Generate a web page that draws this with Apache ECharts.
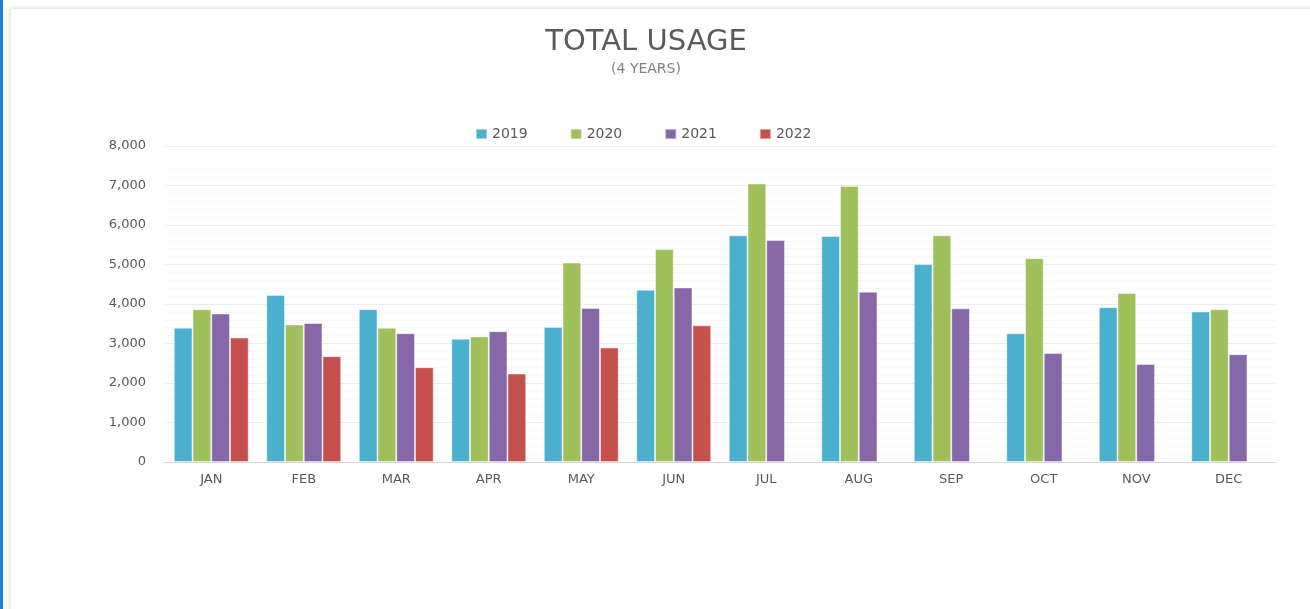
<!DOCTYPE html>
<html>
<head>
<meta charset="utf-8">
<script src="https://cdn.jsdelivr.net/npm/echarts@6/dist/echarts.min.js"></script>
<style>
  html, body { margin: 0; padding: 0; background: #ffffff; }
  #page { position: relative; width: 1310px; height: 609px; overflow: hidden; background: #ffffff; }
  #blue { position: absolute; left: 0; top: 0; width: 3px; height: 609px; background: #1b7fd6; }
  #card { position: absolute; left: 11px; top: 9px; width: 1320px; height: 640px; background: #ffffff;
          box-shadow: -1px -1px 4px rgba(0,0,0,0.15); }
  #chart { position: absolute; left: 0; top: 0; width: 1310px; height: 609px; }
</style>
</head>
<body>
<div id="page">
  <div id="blue"></div>
  <div id="card"></div>
  <div id="chart"></div>
</div>
<script>
const months = ['JAN','FEB','MAR','APR','MAY','JUN','JUL','AUG','SEP','OCT','NOV','DEC'];
const seriesNames = ['2019','2020','2021','2022'];
const usage2019 = [3400, 4230, 3870, 3120, 3420, 4360, 5740, 5720, 5010, 3260, 3920, 3810];
const usage2020 = [3870, 3480, 3400, 3180, 5050, 5390, 7050, 6990, 5740, 5160, 4280, 3870];
const usage2021 = [3760, 3520, 3260, 3310, 3900, 4420, 5620, 4310, 3890, 2760, 2480, 2730];
const usage2022 = [3150, 2680, 2400, 2240, 2900, 3460, null, null, null, null, null, null];
const colors = ['#4bb0ce', '#9fc05a', '#8667a8', '#c5504d'];

const allData = [usage2019, usage2020, usage2021, usage2022];
const font = '"DejaVu Sans", "Open Sans", sans-serif';

const chart = echarts.init(document.getElementById('chart'), null, { renderer: 'canvas' });
chart.setOption({
  backgroundColor: 'transparent',
  animation: false,
  color: colors,
  title: [
    { text: 'TOTAL USAGE', left: 641, textAlign: 'center', top: 23,
      textStyle: { fontFamily: font, fontSize: 29, fontWeight: 'normal', color: '#5a5a5a' } },
    { text: '(4 YEARS)', left: 641, textAlign: 'center', top: 57,
      textStyle: { fontFamily: font, fontSize: 14, fontWeight: 'normal', color: '#7f7f7f' } }
  ],
  legend: {
    top: 122, left: 470,
    itemWidth: 11, itemHeight: 10, itemGap: 42,
    icon: 'rect',
    textStyle: { fontFamily: font, fontSize: 14, color: '#595959' },
    data: seriesNames
  },
  grid: { left: 165, right: 35, top: 146, bottom: 147 },
  xAxis: {
    type: 'category',
    data: months,
    axisLine: { lineStyle: { color: '#d9d9d9', width: 1 } },
    axisTick: { show: false },
    axisLabel: { fontFamily: font, fontSize: 13, color: '#595959', margin: 11 }
  },
  yAxis: {
    type: 'value', min: 0, max: 8000, interval: 1000,
    axisLine: { show: false },
    axisTick: { show: false },
    axisLabel: { fontFamily: font, fontSize: 13, color: '#595959', margin: 19,
      formatter: v => v.toLocaleString('en-US') },
    splitLine: { lineStyle: { color: '#ececec', width: 1 } },
    minorTick: { show: false, splitNumber: 5 },
    minorSplitLine: { show: true, lineStyle: { color: '#f8f8f8', width: 1 } }
  },
  series: seriesNames.map((name, i) => ({
    name: name,
    type: 'bar',
    data: allData[i],
    barGap: '0%',
    barCategoryGap: '19%',
    itemStyle: { color: colors[i], borderColor: 'rgba(255,255,255,0.45)', borderWidth: 1 }
  }))
});
</script>
</body>
</html>
